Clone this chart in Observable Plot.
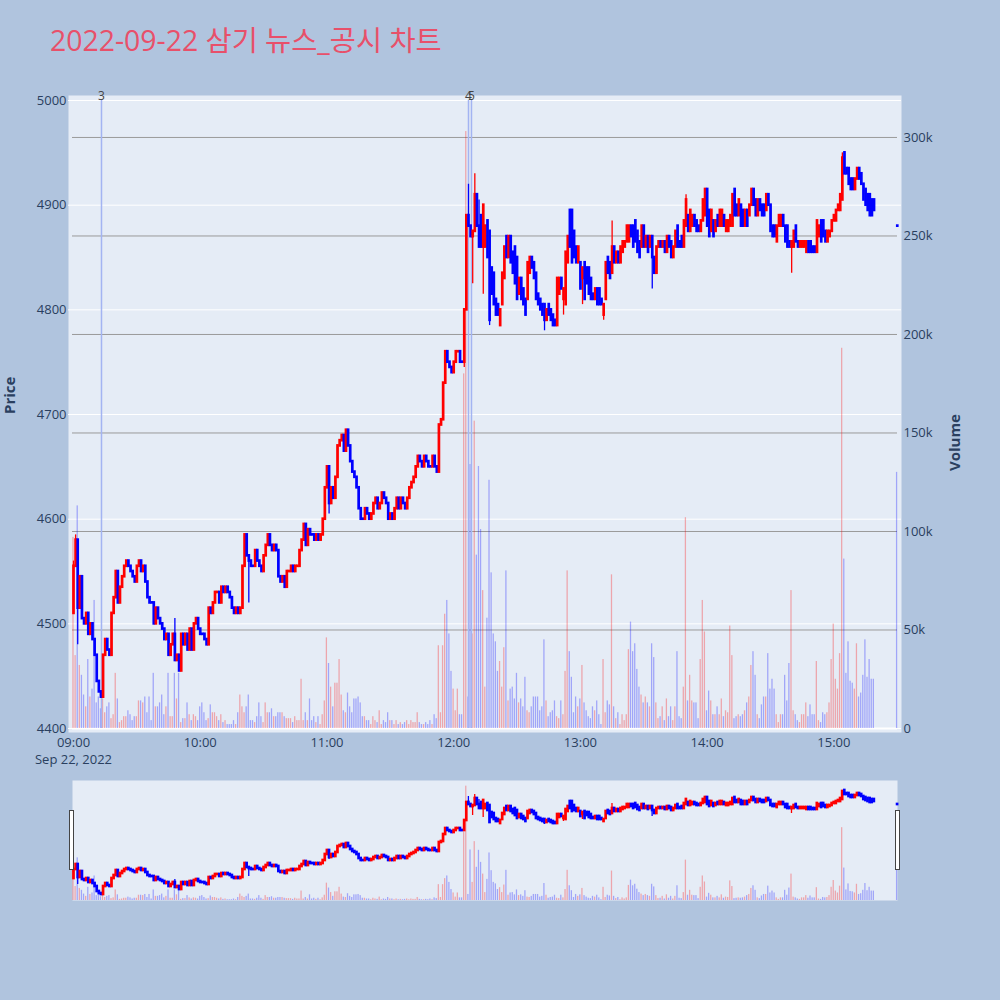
<!DOCTYPE html>
<html>
<head>
<meta charset="utf-8">
<script src="https://cdn.jsdelivr.net/npm/d3@7"></script>
<script src="https://cdn.jsdelivr.net/npm/@observablehq/plot@0.6"></script>
<style>
  html, body { margin: 0; padding: 0; background: #B0C4DE; }
  #chart { position: relative; width: 1000px; height: 1000px; background: #B0C4DE; overflow: hidden;
           font-family: "Open Sans", "Noto Sans CJK KR", sans-serif; }
  #chart > svg { position: absolute; left: 0; overflow: visible; }
  #title { position: absolute; left: 50px; top: 26px; font-size: 28.4px; line-height: 28px; color: #E8506A; white-space: nowrap; }
  .handle { position: absolute; top: 810px; width: 5px; height: 60px; box-sizing: border-box; background: #fff; border: 1px solid #444; }
</style>
</head>
<body>
<div id="chart"><div id="title"></div></div>
<script>
// ---------------- data ----------------
const chartTitle = "2022-09-22 삼기 뉴스_공시 차트";
const dateLabel = "Sep 22, 2022";
const sessionStart = "09:00";           // first 1-minute candle, one candle per minute after it
const opens = [
4510,4555,4580,4515,4545,4505,4500,4510,4490,4500,
4485,4470,4445,4435,4430,4470,4485,4475,4470,4510,
4525,4550,4520,4535,4545,4555,4560,4555,4550,4545,
4540,4555,4560,4550,4555,4540,4525,4520,4520,4500,
4515,4505,4500,4495,4485,4490,4470,4480,4490,4465,
4470,4455,4490,4480,4490,4475,4495,4475,4500,4505,
4495,4490,4490,4485,4480,4515,4510,4520,4530,4530,
4520,4535,4530,4535,4530,4525,4515,4510,4515,4510,
4515,4555,4585,4565,4560,4555,4555,4570,4560,4555,
4550,4565,4575,4585,4575,4570,4575,4570,4545,4540,
4545,4535,4550,4550,4555,4550,4555,4555,4570,4580,
4595,4575,4590,4585,4585,4580,4585,4580,4585,4600,
4630,4650,4615,4630,4620,4640,4670,4675,4680,4665,
4685,4670,4655,4645,4640,4630,4610,4600,4600,4610,
4605,4600,4605,4615,4620,4610,4615,4625,4620,4615,
4600,4605,4600,4610,4620,4610,4620,4615,4610,4620,
4630,4635,4640,4650,4660,4655,4650,4660,4655,4650,
4650,4660,4650,4645,4690,4695,4730,4760,4750,4745,
4740,4750,4760,4760,4750,4750,4800,4890,4880,4870,
4875,4910,4880,4890,4860,4860,4885,4875,4840,4835,
4810,4805,4785,4805,4830,4870,4850,4870,4855,4860,
4850,4815,4830,4820,4810,4810,4835,4850,4845,4835,
4815,4810,4805,4805,4790,4805,4800,4795,4790,4785,
4815,4830,4810,4805,4845,4895,4895,4875,4860,4845,
4845,4830,4845,4840,4840,4830,4815,4810,4820,4820,
4810,4795,4810,4850,4845,4835,4860,4845,4855,4845,
4855,4860,4865,4865,4880,4880,4885,4875,4865,4860,
4880,4860,4870,4860,4870,4850,4835,4860,4865,4860,
4865,4855,4870,4865,4850,4860,4880,4865,4870,4860,
4880,4890,4875,4880,4890,4885,4880,4875,4885,4890,
4915,4895,4875,4885,4875,4890,4880,4880,4890,4875,
4875,4880,4880,4915,4900,4890,4900,4895,4880,4895,
4890,4900,4915,4905,4890,4905,4900,4900,4895,4910,
4900,4880,4880,4865,4880,4880,4890,4880,4880,4865,
4860,4860,4880,4865,4860,4860,4860,4855,4865,4865,
4860,4860,4855,4870,4885,4885,4875,4865,4870,4875,
4885,4885,4895,4895,4905,4950,4935,4935,4925,4925,
4915,4925,4935,4930,4920,4915,4910,4910,4905,4905];
const closes = [
4555,4580,4515,4545,4505,4500,4510,4490,4500,4485,
4470,4445,4435,4430,4470,4485,4475,4470,4510,4525,
4550,4520,4535,4545,4555,4560,4555,4550,4545,4540,
4555,4560,4550,4555,4540,4525,4520,4520,4500,4515,
4505,4500,4495,4485,4490,4470,4480,4490,4465,4470,
4455,4490,4480,4490,4475,4495,4475,4500,4505,4495,
4490,4490,4485,4480,4515,4510,4520,4530,4530,4520,
4535,4530,4535,4530,4525,4515,4510,4515,4510,4515,
4555,4585,4565,4560,4555,4555,4570,4560,4555,4550,
4565,4575,4585,4575,4570,4575,4570,4545,4540,4545,
4535,4550,4550,4555,4550,4555,4555,4570,4580,4595,
4575,4590,4585,4585,4580,4585,4580,4585,4600,4630,
4650,4615,4630,4620,4640,4670,4675,4680,4665,4685,
4670,4655,4645,4640,4630,4610,4600,4600,4610,4605,
4600,4605,4615,4620,4610,4615,4625,4620,4615,4600,
4605,4600,4610,4620,4610,4620,4615,4610,4620,4630,
4635,4640,4650,4660,4655,4650,4660,4655,4650,4650,
4660,4650,4645,4690,4695,4730,4760,4750,4745,4740,
4750,4760,4760,4750,4750,4800,4890,4880,4870,4875,
4910,4880,4860,4860,4900,4880,4850,4790,4815,4805,
4795,4795,4800,4835,4860,4850,4870,4845,4835,4825,
4810,4830,4810,4805,4795,4845,4850,4840,4830,4810,
4805,4800,4795,4790,4800,4795,4790,4785,4785,4830,
4830,4820,4820,4855,4870,4860,4845,4850,4845,4860,
4820,4840,4810,4825,4815,4810,4810,4820,4805,4805,
4805,4805,4845,4835,4830,4860,4845,4855,4845,4860,
4865,4865,4880,4880,4870,4860,4865,4855,4850,4880,
4860,4870,4855,4870,4850,4835,4860,4865,4860,4865,
4855,4870,4860,4850,4860,4875,4860,4860,4860,4885,
4905,4875,4895,4890,4880,4875,4875,4885,4905,4915,
4880,4870,4895,4870,4885,4880,4895,4895,4880,4885,
4885,4890,4910,4890,4890,4905,4880,4880,4895,4880,
4900,4915,4900,4890,4905,4895,4890,4890,4910,4900,
4875,4870,4870,4880,4890,4890,4880,4865,4860,4860,
4865,4875,4865,4860,4865,4865,4865,4865,4855,4855,
4855,4855,4885,4880,4865,4870,4865,4875,4875,4885,
4890,4895,4900,4910,4945,4930,4930,4920,4915,4915,
4925,4935,4925,4920,4905,4900,4895,4890,4890,4895];
// wicks beyond the body: [candle index, low, high]
const wicks = [[0,4510,4560],[1,null,4585],[2,4480,null],[48,null,4505],[81,null,4585],[83,4520,null],
  [121,4605,null],[129,null,4685],[185,4745,null],[187,null,4920],[189,4825,null],[190,null,4930],
  [192,null,4905],[194,4815,null],[197,4785,null],[202,4785,null],[223,4780,null],[232,4795,null],
  [241,4805,null],[251,4790,null],[255,null,4885],[274,4820,null],[290,null,4910],[340,4835,null],[364,null,4950]];
// volume per minute, in thousands of shares
const volumesK = [
97,37,113,32,27,17,11,35,16,20,
65,13,16,10,15,8,11,13,5,7,
28,15,3,4,6,6,9,7,4,6,
6,14,14,13,16,8,16,4,28,11,
11,13,17,7,11,28,6,6,28,15,
28,3,5,5,13,7,4,7,6,4,
11,13,8,4,5,12,8,8,6,4,
7,3,4,2,2,2,4,2,8,17,
11,8,11,17,4,4,3,6,13,6,
3,13,8,8,10,6,6,8,8,8,
6,5,5,5,3,6,4,4,25,4,
8,4,15,4,6,3,6,2,7,14,
46,33,21,11,23,23,35,17,9,8,
18,11,8,15,15,16,13,6,6,4,
4,2,6,4,3,9,2,4,3,8,
4,4,2,4,2,3,2,3,4,2,
4,3,3,8,3,2,2,3,2,4,
2,7,5,42,8,42,58,65,48,29,
20,9,20,7,7,180,303,16,134,48,
156,88,133,101,70,21,56,126,79,48,
44,29,34,21,41,80,14,20,21,15,
28,13,15,11,26,9,8,11,16,16,
16,9,11,45,14,6,8,9,14,6,
5,14,7,29,80,39,26,8,16,11,
15,32,13,9,6,5,11,9,14,7,
2,35,8,14,12,78,11,5,8,2,
7,4,7,40,54,39,43,30,21,17,
13,16,13,11,43,36,13,5,6,11,
4,15,6,11,4,11,39,6,5,21,
107,14,27,14,13,13,5,35,65,49,
9,19,14,7,7,11,7,15,6,9,
8,52,37,5,6,7,6,7,9,13,
16,32,39,27,7,5,12,16,16,38,
20,25,20,7,3,7,7,27,14,33,
70,9,7,4,3,7,7,13,6,12,
7,7,34,4,3,8,7,8,13,35,
53,25,20,38,193,86,28,44,24,23,
20,43,16,18,27,45,26,35,25,25];
const closingAuction = { time: "15:30", price: 4880, volume: 130000 };
const news = [ { label: "3", time: "09:13:15" }, { label: "4", time: "12:07:00" }, { label: "5", time: "12:08:25" } ];
const priceTicks = [4400, 4500, 4600, 4700, 4800, 4900, 5000];
const volumeTicks = [0, 50000, 100000, 150000, 200000, 250000, 300000];
const hourTicks = ["09:00", "10:00", "11:00", "12:00", "13:00", "14:00", "15:00"];

// ---------------- build ----------------
const UP = "#FF0000", DOWN = "#0000FF";
const BG = "#E5ECF6", INK = "#2a3f5f";
const FONT = '"Open Sans", "Noto Sans CJK KR", sans-serif';
const at = str => { const [h, m, s] = str.split(":").map(Number); return new Date(2022, 8, 22, h, m, s || 0); };
const t0 = at(sessionStart);
const candles = closes.map((c, i) => ({
  time: new Date(+t0 + i * 60000), open: opens[i], close: c,
  high: Math.max(opens[i], c), low: Math.min(opens[i], c), volume: volumesK[i] * 1000
}));
for (const [i, lo, hi] of wicks) {
  if (lo != null) candles[i].low = Math.min(candles[i].low, lo);
  if (hi != null) candles[i].high = Math.max(candles[i].high, hi);
}
candles.push({ time: at(closingAuction.time), open: closingAuction.price, close: closingAuction.price,
  high: closingAuction.price, low: closingAuction.price, volume: closingAuction.volume });
let prevDir = 1;
candles.forEach((d, i) => {
  const prev = i ? candles[i - 1].close : d.open;
  const dir = d.close > d.open ? 1 : d.close < d.open ? -1 : d.close > prev ? 1 : d.close < prev ? -1 : prevDir;
  d.color = dir > 0 ? UP : DOWN; prevDir = dir;
});
const newsItems = news.map(n => ({ label: n.label, time: at(n.time) }));
const hourDates = hourTicks.map(at);
const hm = d3.timeFormat("%H:%M");

const mainDomain = [at("08:57:38"), at("15:32:00")];
const volDomain = [at("08:59:32"), at("15:30:12")];
const half = 18000;
const chart = document.getElementById("chart");
document.getElementById("title").textContent = chartTitle;
function place(svg, top) { svg.style.top = top + "px"; chart.appendChild(svg); }
const baseStyle = { background: "transparent", fontFamily: FONT, fontSize: "13px", color: INK, overflow: "visible" };

// layer 1: main price frame, grid and axes
place(Plot.plot({
  width: 1000, height: 760, marginLeft: 68, marginRight: 99, marginTop: 95, marginBottom: 28,
  style: baseStyle,
  x: { type: "time", domain: mainDomain, label: null },
  y: { domain: [4396.2, 5004.8], label: null },
  marks: [
    Plot.frame({ fill: BG, stroke: "none" }),
    Plot.gridY(priceTicks, { stroke: "#ffffff", strokeOpacity: 1 }),
    Plot.axisY(priceTicks, { tickSize: 0, tickPadding: 2, tickFormat: d => String(d), label: null }),
    Plot.axisX(hourDates, { tickSize: 0, tickPadding: 5, label: null, tickFormat: hm }),
    Plot.text([hourDates[0]], { x: d => d, text: () => dateLabel, frameAnchor: "bottom", dy: 22, lineAnchor: "top", fill: INK }),
    Plot.text(["Price"], { text: d => d, frameAnchor: "left", dx: -58, rotate: -90, fontWeight: "bold", fontSize: 15, fill: INK })
  ]
}), 0);

// layer 2: volume (right axis)
place(Plot.plot({
  width: 1000, height: 760, marginLeft: 72, marginRight: 103, marginTop: 95, marginBottom: 28,
  style: baseStyle,
  x: { type: "time", domain: volDomain, axis: null },
  y: { domain: [-2030, 321300], label: null },
  marks: [
    Plot.gridY(volumeTicks.filter(v => v > 0), { stroke: "#9a9a9a", strokeOpacity: 1 }),
    Plot.ruleY([0], { stroke: "#ffffff", strokeWidth: 2 }),
    Plot.rectY(candles, { x1: d => new Date(+d.time - half), x2: d => new Date(+d.time + half),
      y1: 0, y2: "volume", fill: "color", fillOpacity: 0.3 }),
    Plot.axisY(volumeTicks, { anchor: "right", tickSize: 0, tickPadding: 6, tickFormat: d3.format("~s"), label: null }),
    Plot.text(["Volume"], { text: d => d, frameAnchor: "right", dx: 58, rotate: -90, fontWeight: "bold", fontSize: 15, fill: INK })
  ]
}), 0);

// layer 3: candles and news markers
place(Plot.plot({
  width: 1000, height: 760, marginLeft: 68, marginRight: 99, marginTop: 95, marginBottom: 28,
  style: baseStyle,
  x: { type: "time", domain: mainDomain, axis: null },
  y: { domain: [4396.2, 5004.8], axis: null },
  marks: [
    Plot.ruleX(newsItems, { x: "time", y1: priceTicks[0], y2: priceTicks[priceTicks.length - 1], stroke: "#a3b4f2", strokeWidth: 1.5 }),
    Plot.text(newsItems, { x: "time", text: "label", frameAnchor: "top", dy: 1, lineAnchor: "middle", fontSize: 12, fill: "#444" }),
    Plot.ruleX(candles, { x: "time", y1: "low", y2: "high", stroke: "color", strokeWidth: 1.3 }),
    Plot.ruleX(candles, { x: "time", y1: "open", y2: "close", stroke: "color", strokeWidth: 2.7, strokeLinecap: "square" })
  ]
}), 0);

// range slider: volume + candles
place(Plot.plot({
  width: 1000, height: 160, marginLeft: 72, marginRight: 103, marginTop: 20, marginBottom: 20,
  style: baseStyle,
  x: { type: "time", domain: volDomain, axis: null },
  y: { domain: [0, 318000], axis: null },
  marks: [
    Plot.frame({ fill: BG, stroke: "none" }),
    Plot.rectY(candles, { x1: d => new Date(+d.time - half), x2: d => new Date(+d.time + half),
      y1: 0, y2: "volume", fill: "color", fillOpacity: 0.3 })
  ]
}), 760);
place(Plot.plot({
  width: 1000, height: 160, marginLeft: 72, marginRight: 103, marginTop: 20, marginBottom: 20,
  style: baseStyle,
  x: { type: "time", domain: volDomain, axis: null },
  y: { domain: [4400, 5000], axis: null },
  marks: [
    Plot.ruleX(candles, { x: "time", y1: "low", y2: "high", stroke: "color", strokeWidth: 1.3 }),
    Plot.ruleX(candles, { x: "time", y1: "open", y2: "close", stroke: "color", strokeWidth: 2.7, strokeLinecap: "square" })
  ]
}), 760);

// slider handles
for (const left of [69, 895]) {
  const h = document.createElement("div");
  h.className = "handle"; h.style.left = left + "px";
  chart.appendChild(h);
}
</script>
</body>
</html>
